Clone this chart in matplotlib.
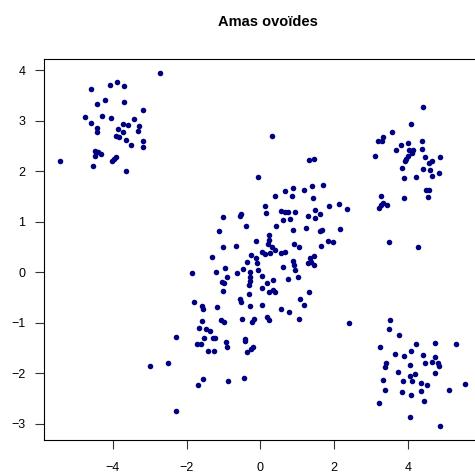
import matplotlib
matplotlib.use("Agg")
import matplotlib.pyplot as plt
import numpy as np

plt.rcParams['font.family'] = ['Liberation Sans', 'DejaVu Sans']

# cluster top-left
tl_x = [-2.72, -4.59, -4.08, -3.88, -3.70, -4.20, -4.44, -3.69, -3.17, -4.76,
        -4.30, -4.06, -4.58, -3.43, -3.73, -3.60, -3.28, -4.44, -4.42, -3.85,
        -3.72, -3.33, -3.92, -3.83, -3.64, -3.52, -3.17, -3.17, -4.49, -4.40,
        -4.32, -4.49, -3.92, -3.97, -4.02, -5.42, -4.53, -3.65]
tl_y = [3.94, 3.63, 3.71, 3.77, 3.70, 3.42, 3.33, 3.37, 3.21, 3.08,
        3.10, 3.05, 2.95, 3.04, 2.93, 2.91, 2.89, 2.85, 2.77, 2.83,
        2.77, 2.79, 2.71, 2.69, 2.62, 2.53, 2.60, 2.48, 2.41, 2.38,
        2.34, 2.30, 2.29, 2.25, 2.21, 2.21, 2.10, 2.00]

# cluster top-right
tr_x = [4.42, 4.09, 3.57, 3.33, 3.20, 3.29, 4.00, 4.38, 3.81, 3.68,
        4.04, 4.14, 4.40, 4.11, 4.02, 3.10, 4.48, 4.88, 3.96, 3.92,
        4.67, 4.58, 3.84, 4.42, 4.60, 4.84, 4.66, 4.22, 3.91, 4.50,
        4.58, 4.54, 3.90, 3.27, 3.34, 3.44, 3.27, 3.22, 3.48, 4.27]
tr_y = [3.27, 2.94, 2.78, 2.69, 2.60, 2.61, 2.57, 2.61, 2.52, 2.42,
        2.43, 2.43, 2.44, 2.37, 2.31, 2.30, 2.29, 2.28, 2.25, 2.21,
        2.21, 2.16, 2.07, 2.05, 2.02, 1.97, 1.91, 1.89, 1.87, 1.64,
        1.63, 1.49, 1.48, 1.52, 1.37, 1.34, 1.33, 1.27, 0.61, 0.50]

# cluster bottom-right
br_x = [3.52, 3.49, 3.77, 3.24, 4.22, 4.74, 5.32, 4.09, 3.65, 3.90,
        4.42, 4.75, 3.42, 3.38, 4.06, 4.46, 4.67, 4.81, 4.85, 3.73,
        4.74, 4.21, 4.06, 3.88, 4.12, 3.34, 4.35, 4.52, 5.55, 3.38,
        3.84, 4.36, 5.11, 4.09, 4.43, 3.21, 4.06, 4.88]
br_y = [-0.94, -1.12, -1.24, -1.48, -1.42, -1.40, -1.42, -1.55, -1.61, -1.66,
        -1.64, -1.68, -1.80, -1.88, -1.83, -1.80, -1.78, -1.80, -1.85, -1.97,
        -2.00, -2.02, -2.06, -2.15, -2.15, -2.14, -2.20, -2.24, -2.22, -2.33,
        -2.37, -2.34, -2.32, -2.43, -2.55, -2.58, -2.86, -3.04]

# central elongated cluster
c_x = [0.31, 1.32, 1.47, -0.06, 0.90, 0.67, 1.19, 1.40, 1.69, 0.40,
       0.85, 1.44, 0.12, -0.53, -0.55, 0.15, 0.56, 0.67, 0.76, 0.94,
       1.49, 1.62, 1.86, 2.14, 2.35, 1.29, 1.48, -1.00, 0.62, 0.82,
       -0.40, 0.43, -1.13, 0.90, 1.24, 1.61, 1.68, 2.15, 0.25, -0.12,
       0.25, 0.91, 1.84, 1.98,
       -1.00, -0.67, 1.06, 1.65,
       0.22, 0.33, 0.40, 0.04, 0.13, 0.26, -0.25, -0.37, -0.12, -0.08,
       0.55, 0.67, 0.88, 0.91, 0.94, 0.62, -0.28, -0.05, 0.04,
       -1.31, -0.46, -0.64, -1.85, -1.20, -0.96, -0.90, -1.03, -0.98, -1.02,
       -0.27, -0.28, -0.30, 0.05, 0.18, 0.34, 0.24, 0.34, 0.40, -0.31,
       -0.54, -0.52, -0.27, 0.05, 0.55, -1.81, -1.58, -1.56, -1.16, -1.59,
       -1.07, -0.98, -0.50, -0.18, -0.23, 0.17, 0.24, -1.67, -1.47, -1.36,
       -1.53, -1.28, -1.24, -1.71, -1.62, -0.94, -0.91, -0.42, -0.41, -0.19,
       -0.25, -0.35, -1.41, -1.25, -2.28, -3.00, -2.49, -1.55, -1.68, -0.88,
       -0.43, -2.29,
       1.35, 1.47, 1.30, 1.38, 1.47, 0.76, 1.03, 1.33, 1.08, 1.20,
       0.78, 1.04, 2.41]
c_y = [2.71, 2.23, 2.25, 1.88, 1.68, 1.61, 1.64, 1.71, 1.73, 1.51,
       1.51, 1.47, 1.31, 1.16, 1.12, 1.18, 1.22, 1.20, 1.20, 1.20,
       1.23, 1.16, 1.32, 1.36, 1.25, 1.12, 1.08, 1.10, 1.03, 1.05,
       0.92, 0.91, 0.82, 0.83, 0.87, 0.82, 0.83, 0.86, 0.74, 0.62,
       0.64, 0.57, 0.62, 0.60,
       0.50, 0.52, 0.50, 0.53,
       0.56, 0.51, 0.45, 0.40, 0.36, 0.38, 0.35, 0.20, 0.28, 0.18,
       0.38, 0.40, 0.22, 0.14, 0.05, 0.10, 0.00, 0.05, -0.08,
       0.31, 0.06, -0.01, -0.01, 0.01, 0.08, -0.09, -0.20, -0.21, -0.37,
       -0.10, -0.18, -0.25, -0.30, -0.22, -0.15, -0.38, -0.35, -0.39, -0.43,
       -0.53, -0.58, -0.66, -0.65, -0.72, -0.59, -0.66, -0.72, -0.68, -0.96,
       -0.94, -0.98, -0.93, -0.92, -0.98, -0.89, -0.95, -1.10, -1.12, -1.17,
       -1.30, -1.30, -1.30, -1.41, -1.41, -1.37, -1.47, -1.32, -1.36, -1.48,
       -1.51, -1.58, -1.56, -1.56, -1.28, -1.85, -1.80, -2.12, -2.24, -2.16,
       -2.10, -2.75,
       0.28, 0.32, 0.18, 0.21, 0.15, -0.13, -0.10, -0.39, -0.53, -0.64,
       -0.78, -0.92, -1.01]

x = np.array(tl_x + tr_x + br_x + c_x)
y = np.array(tl_y + tr_y + br_y + c_y)

fig = plt.figure(figsize=(4.75, 4.75), dpi=100)
ax = fig.add_axes([44.3 / 475, 35 / 475, (481 - 44.3) / 475, (440 - 59.3) / 475])

ax.scatter(x, y, s=16, color='#000080', linewidths=0)

# R-style 4% expansion
dx = (x.max() - x.min()) * 0.04
dy = (y.max() - y.min()) * 0.04
ax.set_xlim(x.min() - dx, x.max() + dx)
ax.set_ylim(y.min() - dy, y.max() + dy)

ax.set_xticks([-4, -2, 0, 2, 4])
ax.set_yticks([-3, -2, -1, 0, 1, 2, 3, 4])
ax.tick_params(direction='out', length=6.5, width=0.8, colors='#333333',
               labelcolor='black', labelsize=9)
ax.tick_params(axis='x', pad=9)
ax.tick_params(axis='y', pad=7)
for s in ax.spines.values():
    s.set_linewidth(0.8)
    s.set_color('black')

fig.text(268 / 475, 1 - 22 / 475, 'Amas ovoïdes', ha='center', va='center',
         fontsize=10.5, fontweight='bold')

fig.savefig('out.png', dpi=100)
